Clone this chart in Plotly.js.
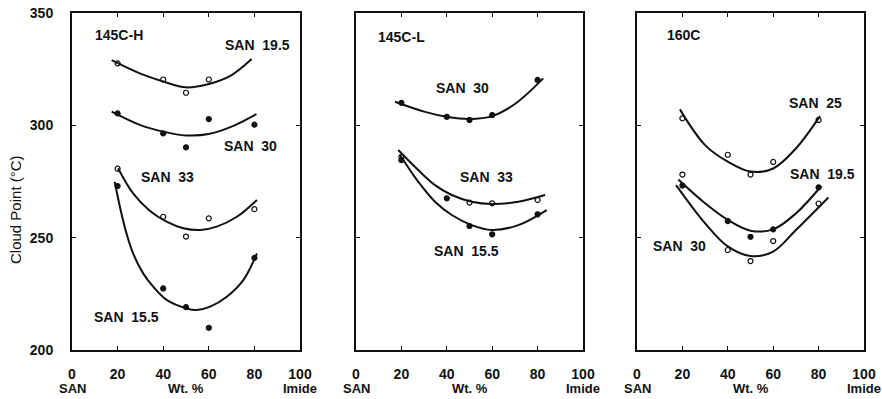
<!DOCTYPE html>
<html>
<head>
<meta charset="utf-8">
<script src="https://cdn.plot.ly/plotly-3.0.1.min.js"></script>
<style>body{margin:0;padding:0;background:#fff}#chart{width:882px;height:399px}</style>
</head>
<body>
<div id="chart"></div>
<script>
// ---------- Data ----------
// Panel 1: 145C-H
const h_san195_ptsX = [20, 40, 50, 60];
const h_san195_ptsY = [327.6, 320.4, 314.5, 320.4];
const h_san195_fitX = [17.4, 30, 40, 50, 60, 70, 78.8];
const h_san195_fitY = [329, 323, 319.5, 316.9, 318.4, 322.4, 329.5];

const h_san30_ptsX = [20, 40, 50, 60, 80];
const h_san30_ptsY = [305.3, 296.4, 290.2, 302.8, 300.3];
const h_san30_fitX = [17.4, 30, 40, 50, 60, 70, 80.9];
const h_san30_fitY = [306.1, 300.1, 297.2, 295.5, 296.1, 299.4, 305];

const h_san33_ptsX = [20, 40, 50, 60, 80];
const h_san33_ptsY = [280.7, 259.3, 250.5, 258.6, 262.7];
const h_san33_fitX = [20.2, 26.8, 34.1, 41.5, 48.8, 56.2, 63.5, 72.3, 81.1];
const h_san33_fitY = [280.9, 269.7, 262, 257.1, 254.2, 253.4, 254.9, 259.3, 266.8];

const h_san155_ptsX = [20, 40, 50, 60, 80];
const h_san155_ptsY = [273, 227.4, 219.1, 209.9, 241];
const h_san155_fitX = [18.7, 23.1, 26.8, 31.2, 35.6, 41.5, 50.3, 54.7, 60.6, 67.9, 75.2, 81.1];
const h_san155_fitY = [274.9, 254.9, 243, 234.1, 228.2, 222.3, 218.5, 217.8, 219.3, 223.7, 231.2, 243];

// Panel 2: 145C-L
const l_san30_ptsX = [20, 40, 50, 60, 80];
const l_san30_ptsY = [310, 303.8, 302.4, 304.6, 320.2];
const l_san30_fitX = [17.2, 30, 40, 50, 60, 70, 82.5];
const l_san30_fitY = [310.5, 306.1, 303.8, 302.8, 304.1, 309.5, 320.9];

const l_san33_ptsX = [20, 50, 60, 80];
const l_san33_ptsY = [286, 265.6, 265.3, 266.8];
const l_san33_fitX = [18.6, 27.4, 34.8, 42.2, 51, 59.8, 71.5, 83.3];
const l_san33_fitY = [289, 280.1, 273.4, 269, 266, 265, 266, 269];

const l_san155_ptsX = [20, 40, 50, 60, 80];
const l_san155_ptsY = [284.5, 267.5, 255.2, 251.5, 260.4];
const l_san155_fitX = [19.4, 27.4, 34.8, 42.2, 51, 59.8, 71.5, 84];
const l_san155_fitY = [286.8, 274.9, 266, 260.1, 255.6, 253.4, 255.6, 262.3];

// Panel 3: 160C
const c_san25_ptsX = [20, 40, 50, 60, 80];
const c_san25_ptsY = [303.1, 286.9, 278.1, 283.7, 302.4];
const c_san25_fitX = [18.9, 30, 40, 50, 60, 70, 80.6];
const c_san25_fitY = [307.1, 291.2, 283.8, 279.4, 280.8, 289.7, 304.1];

const c_san195_ptsX = [20, 40, 50, 60, 80];
const c_san195_ptsY = [273.2, 257.4, 250.4, 253.7, 272.4];
const c_san195_fitX = [18.2, 30, 40, 50, 60, 70, 81.2];
const c_san195_fitY = [275.9, 265.3, 257.9, 253.1, 253.7, 260.8, 273];

const c_san30_ptsX = [20, 40, 50, 60, 80];
const c_san30_ptsY = [278.1, 244.5, 239.6, 248.5, 265.2];
const c_san30_fitX = [17.2, 30, 40, 50, 60, 70, 84.3];
const c_san30_fitY = [273.4, 256.4, 246.1, 241.8, 243.8, 253.4, 267.9];

const xTickVals = [0, 20, 40, 60, 80, 100];
const xTickText = ['0', '20', '40', '60', '80', '100'];
const yTickVals = [200, 250, 300, 350];
const yTickText = ['200', '250', '300', '350'];
const panelTitles = ['145C-H', '145C-L', '160C'];
const xEndLabels = ['SAN', 'Wt. %', 'Imide'];
const yTitle = 'Cloud Point (°C)';

// ---------- Traces ----------
const traces = [];
function fit(x, y, ax) {
  traces.push({x: x, y: y, xaxis: 'x' + ax, yaxis: 'y' + ax, mode: 'lines',
    line: {color: '#111', width: 2, shape: 'spline', smoothing: 1}, hoverinfo: 'skip'});
}
function pts(x, y, ax, open) {
  traces.push({x: x, y: y, xaxis: 'x' + ax, yaxis: 'y' + ax, mode: 'markers',
    marker: {symbol: open ? 'circle-open' : 'circle', size: 5,
      color: '#111', line: {color: '#111', width: 1.2}}});
}
const AX = ['', '2', '3'];
fit(h_san195_fitX, h_san195_fitY, AX[0]); pts(h_san195_ptsX, h_san195_ptsY, AX[0], true);
fit(h_san30_fitX, h_san30_fitY, AX[0]);   pts(h_san30_ptsX, h_san30_ptsY, AX[0], false);
fit(h_san33_fitX, h_san33_fitY, AX[0]);   pts(h_san33_ptsX, h_san33_ptsY, AX[0], true);
fit(h_san155_fitX, h_san155_fitY, AX[0]); pts(h_san155_ptsX, h_san155_ptsY, AX[0], false);

fit(l_san30_fitX, l_san30_fitY, AX[1]);   pts(l_san30_ptsX, l_san30_ptsY, AX[1], false);
fit(l_san33_fitX, l_san33_fitY, AX[1]);   pts(l_san33_ptsX, l_san33_ptsY, AX[1], true);
fit(l_san155_fitX, l_san155_fitY, AX[1]); pts(l_san155_ptsX, l_san155_ptsY, AX[1], false);

fit(c_san25_fitX, c_san25_fitY, AX[2]);   pts(c_san25_ptsX, c_san25_ptsY, AX[2], true);
fit(c_san195_fitX, c_san195_fitY, AX[2]); pts(c_san195_ptsX, c_san195_ptsY, AX[2], false);
fit(c_san30_fitX, c_san30_fitY, AX[2]);   pts(c_san30_ptsX, c_san30_ptsY, AX[2], true);

// ---------- Layout ----------
const FONT = 'Liberation Sans, Arial, Helvetica, sans-serif';
const W = 882;
const domains = [[72/W, 300/W], [356/W, 583/W], [637/W, 864/W]];

function xaxis(i) {
  return {domain: domains[i], range: [0, 100], showgrid: false, zeroline: false,
    showline: true, linecolor: '#111', linewidth: 2, mirror: 'ticks',
    ticks: 'inside', ticklen: 4, tickwidth: 1.2, tickcolor: '#111',
    tickvals: xTickVals, ticktext: xTickText, ticklabelstandoff: 10,
    tickfont: {family: FONT, size: 14, color: '#111', weight: 'bold'}, fixedrange: true};
}
function yaxis(i) {
  return {domain: [0, 1], range: [200, 350], showgrid: false, zeroline: false,
    showline: true, linecolor: '#111', linewidth: 2, mirror: 'ticks',
    ticks: 'inside', ticklen: 4, tickwidth: 1.2, tickcolor: '#111',
    tickvals: yTickVals, ticktext: yTickText, showticklabels: i === 0,
    ticklabelstandoff: 14, anchor: 'x' + AX[i],
    tickfont: {family: FONT, size: 14, color: '#111', weight: 'bold'}, fixedrange: true};
}

const SP = '\u00a0 ';
const lab = (ax, x, y, text, xanchor) => ({xref: 'x' + ax, yref: 'y' + ax, x: x, y: y,
  text: text, showarrow: false, xanchor: xanchor || 'center', yanchor: 'middle',
  font: {family: FONT, size: 14, color: '#111', weight: 'bold'}});

const annotations = [
  lab(AX[0], 9, 340.2, panelTitles[0], 'left'),
  lab(AX[1], 8.8, 339.3, panelTitles[1], 'left'),
  lab(AX[2], 12.3, 340.2, panelTitles[2], 'left'),
  lab(AX[0], 81.5, 335.7, 'SAN' + SP + '19.5'),
  lab(AX[0], 78.2, 290.8, 'SAN' + SP + '30'),
  lab(AX[0], 42.1, 277, 'SAN' + SP + '33'),
  lab(AX[0], 23.8, 214.7, 'SAN' + SP + '15.5'),
  lab(AX[1], 46.7, 316.6, 'SAN' + SP + '30'),
  lab(AX[1], 57.7, 277, 'SAN' + SP + '33'),
  lab(AX[1], 48.5, 244.1, 'SAN' + SP + '15.5'),
  lab(AX[2], 78.6, 309.9, 'SAN' + SP + '25'),
  lab(AX[2], 81.9, 278.3, 'SAN' + SP + '19.5'),
  lab(AX[2], 18.7, 246.3, 'SAN' + SP + '30'),
  {xref: 'paper', yref: 'paper', x: 15/W, y: (350-210)/337, text: yTitle, textangle: -90,
   showarrow: false, xanchor: 'center', yanchor: 'middle',
   font: {family: FONT, size: 15, color: '#111'}}
];
[0, 1, 2].forEach(i => {
  [0, 50, 100].forEach((xv, k) => {
    annotations.push({xref: 'x' + AX[i], yref: 'paper', x: xv, y: (350-389)/337,
      text: xEndLabels[k], showarrow: false, xanchor: 'center', yanchor: 'middle',
      font: {family: FONT, size: 13, color: '#111', weight: 'bold'}});
  });
});

const layout = {
  width: 882, height: 399, margin: {l: 0, r: 0, t: 13, b: 49, pad: 0},
  paper_bgcolor: '#fff', plot_bgcolor: '#fff', showlegend: false,
  xaxis: xaxis(0), xaxis2: xaxis(1), xaxis3: xaxis(2),
  yaxis: yaxis(0), yaxis2: yaxis(1), yaxis3: yaxis(2),
  annotations: annotations
};
layout.xaxis.anchor = 'y'; layout.xaxis2.anchor = 'y2'; layout.xaxis3.anchor = 'y3';

Plotly.newPlot('chart', traces, layout, {displayModeBar: false, staticPlot: true});
</script>
</body>
</html>
